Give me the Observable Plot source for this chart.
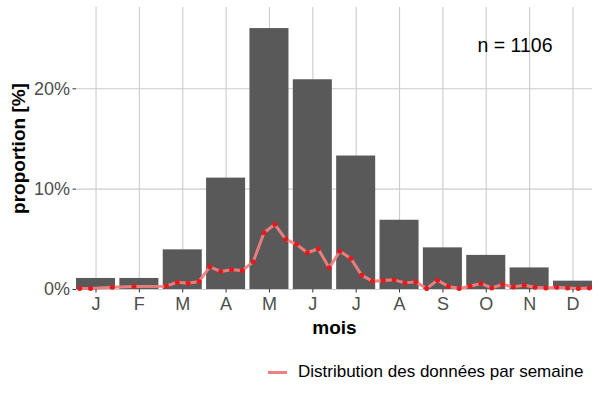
<!DOCTYPE html>
<html><head><meta charset="utf-8">
<script src="https://cdn.jsdelivr.net/npm/d3@7"></script>
<script src="https://cdn.jsdelivr.net/npm/@observablehq/plot@0.6"></script>
<style>
body{margin:0;background:#fff;font-family:"Liberation Sans",Arial,sans-serif}
#wrap{position:relative;width:600px;height:400px}
#legend{position:absolute;left:268px;top:362px;display:flex;align-items:center;font-size:17px;color:#000;line-height:20px}
#legend .sw{display:inline-block;width:19px;height:3px;background:#F08080;margin-right:11px}
</style></head><body><div id="wrap"><div id="legend"><span class="sw"></span><span>Distribution des données par semaine</span></div></div>
<script>
const monthLabels = ["J","F","M","A","M","J","J","A","S","O","N","D"];
const monthNums = [1,2,3,4,5,6,7,8,9,10,11,12];
const monthProp = [1.1,1.1,3.95,11.1,26.0,20.9,13.3,6.9,4.15,3.4,2.15,0.83];
// weekly points: index of week (4 per month, 0..47) and proportion (%)
const weekIndex = [0,1,3,5,8,9,10,11,12,13,14,15,16,17,18,19,20,21,22,23,24,25,26,27,28,29,30,31,32,33,34,35,36,37,38,39,40,41,42,43,44,45,46,47];
const weekProp = [0.1,0.1,0.23,0.3,0.33,0.73,0.63,0.8,2.26,1.8,1.96,1.9,2.76,5.66,6.5,5.0,4.5,3.66,4.06,2.16,3.8,3.1,1.43,0.83,0.9,0.96,0.66,0.76,0.1,0.93,0.3,0.1,0.33,0.6,0.16,0.5,0.26,0.43,0.23,0.16,0.23,0.16,0.1,0.16];
const nLabel = "n = 1106";

const months = monthNums.map((m,i)=>({m, label: monthLabels[i], p: monthProp[i]}));
const weeks = weekIndex.map((w,i)=>({x: 0.625 + w*0.25, p: weekProp[i]}));

const chart = Plot.plot({
  width: 600, height: 400,
  marginLeft: 76, marginRight: 8, marginTop: 7, marginBottom: 111,
  style: {fontFamily: '"Liberation Sans", Arial, sans-serif', background: "#fff"},
  x: {type: "linear", domain: [0.55, 12.45]},
  y: {domain: [0, 28.1]},
  marks: [
    Plot.gridX(monthNums, {stroke: "#cccccc", strokeOpacity: 1, strokeWidth: 1.1}),
    Plot.gridY([0,10,20], {stroke: "#cccccc", strokeOpacity: 1, strokeWidth: 1.1}),
    Plot.rectY(months, {x1: d => d.m - 0.45, x2: d => d.m + 0.45, y: "p", fill: "#595959"}),
    Plot.line(weeks, {x: "x", y: "p", stroke: "#F08080", strokeWidth: 3, strokeOpacity: 0.95}),
    Plot.dot(weeks, {x: "x", y: "p", fill: "#E31A1C", r: 2.5}),
    Plot.axisX(monthNums, {tickFormat: d => monthLabels[d-1], tickSize: 3.5, tickPadding: 4.5, fontSize: 18, color: "#4d4d4d", stroke: "#333", label: null}),
    Plot.axisY([0,10,20], {tickFormat: d => d + "%", tickSize: 3.5, tickPadding: 3, fontSize: 18, color: "#4d4d4d", stroke: "#333", label: null}),
    Plot.text([nLabel], {frameAnchor: "top-right", dx: -40, dy: 38.5, fontSize: 19.5, fill: "#000", textAnchor: "end", lineAnchor: "middle"}),
    Plot.text(["mois"], {frameAnchor: "bottom", dy: 38, fontSize: 19, fontWeight: "bold", fill: "#000", textAnchor: "middle", lineAnchor: "middle"}),
    Plot.text(["proportion [%]"], {frameAnchor: "left", dx: -58, rotate: -90, fontSize: 19, fontWeight: "bold", fill: "#000", textAnchor: "middle", lineAnchor: "middle"})
  ]
});
document.getElementById("wrap").prepend(chart);
</script></body></html>
